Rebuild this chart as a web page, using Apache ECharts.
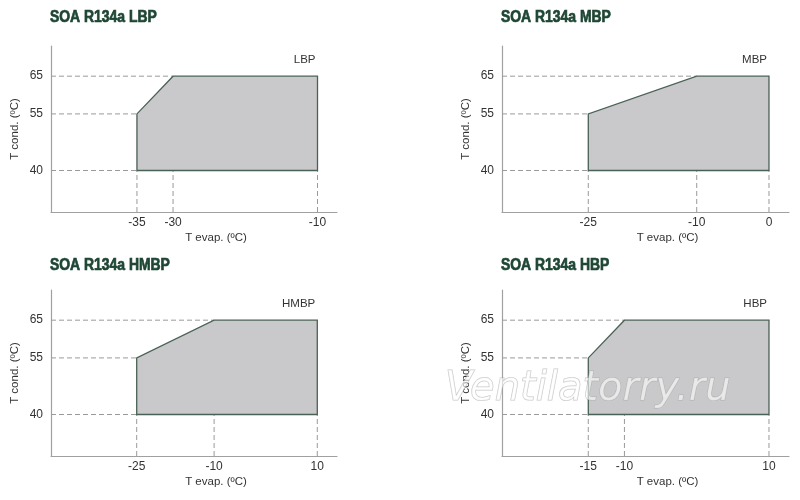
<!DOCTYPE html>
<html>
<head>
<meta charset="utf-8">
<script src="https://cdn.jsdelivr.net/npm/echarts@6/dist/echarts.min.js"></script>
<style>html,body{margin:0;padding:0;background:#fff}#c{width:800px;height:500px}</style>
</head>
<body>
<div id="c"></div>
<script>
// ---- data ----
const titles = ['SOA R134a LBP', 'SOA R134a MBP', 'SOA R134a HMBP', 'SOA R134a HBP'];
const envelopeNames = ['LBP', 'MBP', 'HMBP', 'HBP'];
const lbpEvap = [-35, -35, -30, -10, -10];
const lbpCond = [40, 55, 65, 65, 40];
const mbpEvap = [-25, -25, -10, 0, 0];
const mbpCond = [40, 55, 65, 65, 40];
const hmbpEvap = [-25, -25, -10, 10, 10];
const hmbpCond = [40, 55, 65, 65, 40];
const hbpEvap = [-15, -15, -10, 10, 10];
const hbpCond = [40, 55, 65, 65, 40];
const lbpEvapTicks = [-35, -30, -10];
const mbpEvapTicks = [-25, -10, 0];
const hmbpEvapTicks = [-25, -10, 10];
const hbpEvapTicks = [-15, -10, 10];
const condTicks = [40, 55, 65];
const xAxisName = 'T evap. (ºC)';
const yAxisName = 'T cond. (ºC)';

// ---- layout ----
const FONT = '"Liberation Sans", Arial, Helvetica, sans-serif';
const yMin = 29, yMax = 73;
const panels = [
  {evap: lbpEvap, cond: lbpCond, ticks: lbpEvapTicks, xMin: -46.9, xMax: -7.3, grid: {left: 51, top: 46, width: 286, height: 166}, tx: 50, ty: 18},
  {evap: mbpEvap, cond: mbpCond, ticks: mbpEvapTicks, xMin: -36.94, xMax: 2.77, grid: {left: 502, top: 46, width: 287, height: 166}, tx: 501, ty: 18},
  {evap: hmbpEvap, cond: hmbpCond, ticks: hmbpEvapTicks, xMin: -41.61, xMax: 13.82, grid: {left: 51, top: 290, width: 286, height: 166}, tx: 50, ty: 265.5},
  {evap: hbpEvap, cond: hbpCond, ticks: hbpEvapTicks, xMin: -26.94, xMax: 12.77, grid: {left: 502, top: 290, width: 287, height: 166}, tx: 501, ty: 265.5}
];

const grid = [], xAxis = [], yAxis = [], series = [], graphic = [];
panels.forEach((p, i) => {
  grid.push(Object.assign({containLabel: false}, p.grid));
  xAxis.push({
    gridIndex: i, type: 'value', min: p.xMin, max: p.xMax,
    axisLine: {show: true, onZero: false, lineStyle: {color: '#a0a0a0', width: 1.2}},
    axisTick: {show: false}, splitLine: {show: false},
    axisLabel: {customValues: p.ticks, color: '#333', fontSize: 12, fontFamily: FONT, margin: 5},
    name: xAxisName, nameLocation: 'middle', nameGap: 20,
    nameTextStyle: {color: '#333', fontSize: 11.5, fontFamily: FONT, padding: [0, 0, 0, 44]}
  });
  yAxis.push({
    gridIndex: i, type: 'value', min: yMin, max: yMax,
    axisLine: {show: true, onZero: false, lineStyle: {color: '#a0a0a0', width: 1.2}},
    axisTick: {show: false}, splitLine: {show: false},
    axisLabel: {customValues: condTicks, color: '#333', fontSize: 12, fontFamily: FONT, margin: 8},
    name: yAxisName, nameLocation: 'middle', nameGap: 30,
    nameTextStyle: {color: '#333', fontSize: 11.5, fontFamily: FONT}
  });
  series.push({
    type: 'custom', xAxisIndex: i, yAxisIndex: i, clip: false, silent: true,
    data: [[p.evap[0], p.cond[0]]],
    renderItem: (params, api) => {
      const children = [];
      const dash = {stroke: '#9a9a9a', lineWidth: 1, lineDash: [5, 3]};
      condTicks.forEach(c => {
        const xs = p.evap.filter((x, k) => p.cond[k] === c);
        const a = api.coord([p.xMin, c]);
        const b = api.coord([Math.min(...xs), c]);
        children.push({type: 'line', shape: {x1: a[0], y1: a[1], x2: b[0], y2: b[1]}, style: dash});
      });
      const condLow = Math.min(...p.cond);
      p.ticks.forEach(x => {
        const a = api.coord([x, yMin]);
        const b = api.coord([x, condLow]);
        children.push({type: 'line', shape: {x1: a[0], y1: a[1], x2: b[0], y2: b[1]}, style: dash});
      });
      const pts = p.evap.map((x, k) => api.coord([x, p.cond[k]]));
      children.push({type: 'polygon', shape: {points: pts}, style: {fill: '#c9c9cb', stroke: '#4a6155', lineWidth: 1.3}});
      const lp = api.coord([Math.max(...p.evap), Math.max(...p.cond)]);
      children.push({type: 'text', x: lp[0] - 2, y: lp[1] - 16,
        style: {text: envelopeNames[i], textAlign: 'right', textVerticalAlign: 'middle', fill: '#333', font: '11.5px ' + FONT}});
      return {type: 'group', children};
    }
  });
  graphic.push({type: 'text', x: p.tx, y: p.ty, scaleX: 0.87,
    style: {text: titles[i], fill: '#1e4634', stroke: '#1e4634', lineWidth: 0.7, font: 'bold 16px ' + FONT, textVerticalAlign: 'middle'}});
});
graphic.push({type: 'text', x: 445, y: 390, z: 100,
  style: {text: 'Ventilatorry.ru', font: 'italic 40px "DejaVu Sans", sans-serif', textVerticalAlign: 'middle',
    fill: 'rgba(255,255,255,0.6)', stroke: 'rgba(160,160,160,0.6)', lineWidth: 1}});

const chart = echarts.init(document.getElementById('c'), null, {renderer: 'canvas'});
chart.setOption({animation: false, backgroundColor: '#fff', grid, xAxis, yAxis, series, graphic});
</script>
</body>
</html>
